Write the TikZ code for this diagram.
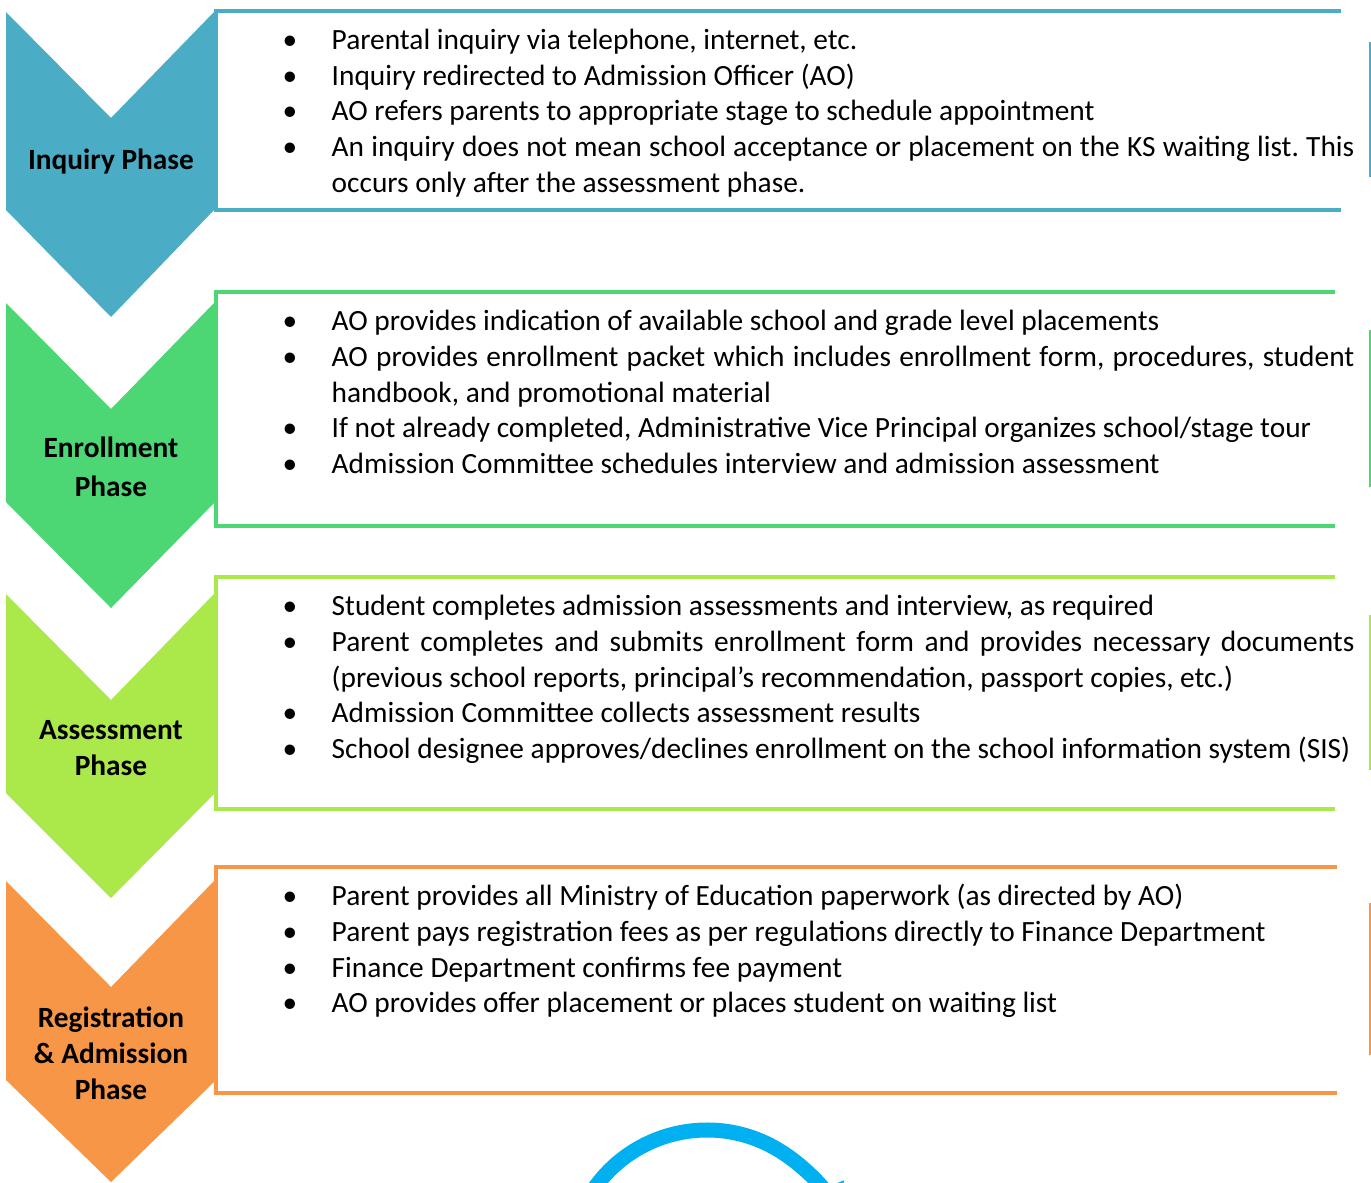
\documentclass[tikz,border=0pt]{standalone}
\usepackage{fontspec}
\setmainfont{Carlito}
\usetikzlibrary{arrows.meta}
\definecolor{inqblue}{HTML}{4BACC6}
\definecolor{enrgreen}{HTML}{4CD674}
\definecolor{asslime}{HTML}{ABE84A}
\definecolor{regorange}{HTML}{F79646}
\definecolor{cyclecyan}{HTML}{00B0F0}
\frenchspacing
\newcommand{\itm}{\par\noindent\hangindent=0.51cm\hangafter=1\makebox[0.51cm][l]{\hspace{0.02cm}\textbullet}\strut}

\begin{document}
\begin{tikzpicture}[
  x=0.01cm, y=-0.01cm,
  every node/.style={
    inner sep=0pt,
    font=\fontsize{8.35}{10.17}\selectfont
  },
  phase/.style={font=\fontsize{8.35}{10.17}\selectfont\bfseries, align=center},
  items/.style={anchor=north west, text width=10.73cm, align=justify},
  frame/.style={line width=1.4pt},
  edge/.style={line width=0.45pt},
  cycle/.style={cyclecyan, line width=0.15cm, -{Triangle[length=0.3cm, width=0.42cm]}}
]
\useasboundingbox (0,0) rectangle (1371,1182);
\fill[white] (0,0) rectangle (1371,1182);

\begin{scope}
\clip (0,0) rectangle (1371,1182);
\fill[inqblue] (6,12) -- (111,118) -- (214,12) -- (214,210) -- (111,317) -- (6,210) -- cycle;
\fill[enrgreen] (6,303) -- (111,409) -- (214,303) -- (214,503) -- (111,608) -- (6,502) -- cycle;
\fill[asslime] (6,594) -- (111,700) -- (214,594) -- (214,794) -- (111,898) -- (6,793) -- cycle;
\fill[regorange] (6,881) -- (111,987) -- (214,881) -- (214,1082) -- (111,1182) -- (6,1080) -- cycle;

\coordinate (loop) at (707,1268);
\draw[cycle] (loop) ++(-150:138) arc[start angle=-150, end angle=-22, radius=138];
\end{scope}

\draw[frame, inqblue] (1341,11) -- (216,11) -- (216,210) -- (1341,210);
\draw[frame, enrgreen] (1335,292) -- (216,292) -- (216,526) -- (1335,526);
\draw[frame, asslime] (1335,577) -- (216,577) -- (216,809) -- (1335,809);
\draw[frame, regorange] (1337,867) -- (216,867) -- (216,1093) -- (1337,1093);

\draw[edge, inqblue] (1370,42) -- (1370,177);
\draw[edge, enrgreen] (1370,330) -- (1370,487);
\draw[edge, asslime] (1370,615) -- (1370,770);
\draw[edge, regorange] (1370,903) -- (1370,1055);

\node[phase] (inq) at (111,162) {Inquiry Phase};
\node[phase] (enr) at (111,467) {Enrollment\\[1pt] Phase};
\node[phase] (ass) at (111,748) {Assessment\\ Phase};
\node[phase] (reg) at (111,1053) {Registration\\ \& Admission\\ Phase};

\node[items] (inqlist) at (280,13) {%
\itm Parental inquiry via telephone, internet, etc.
\itm Inquiry redirected to Admission Officer (AO)
\itm AO refers parents to appropriate stage to schedule appointment
\itm An inquiry does not mean school acceptance or placement on the KS waiting list. This\linebreak occurs only after the assessment phase.\par};

\node[items] (enrlist) at (280,294) {%
\itm AO provides indication of available school and grade level placements
\itm AO provides enrollment packet which includes enrollment form, procedures, student\linebreak handbook, and promotional material
\itm If not already completed, Administrative Vice Principal organizes school/stage tour
\itm Admission Committee schedules interview and admission assessment\par};

\node[items] (asslist) at (280,579) {%
\itm Student completes admission assessments and interview, as required
\itm Parent completes and submits enrollment form and provides necessary documents\linebreak (previous school reports, principal’s recommendation, passport copies, etc.)
\itm Admission Committee collects assessment results
\itm School designee approves/declines enrollment on the school information system (SIS)\par};

\node[items] (reglist) at (280,869) {%
\itm Parent provides all Ministry of Education paperwork (as directed by AO)
\itm Parent pays registration fees as per regulations directly to Finance Department
\itm Finance Department confirms fee payment
\itm AO provides offer placement or places student on waiting list\par};
\end{tikzpicture}
\end{document}
